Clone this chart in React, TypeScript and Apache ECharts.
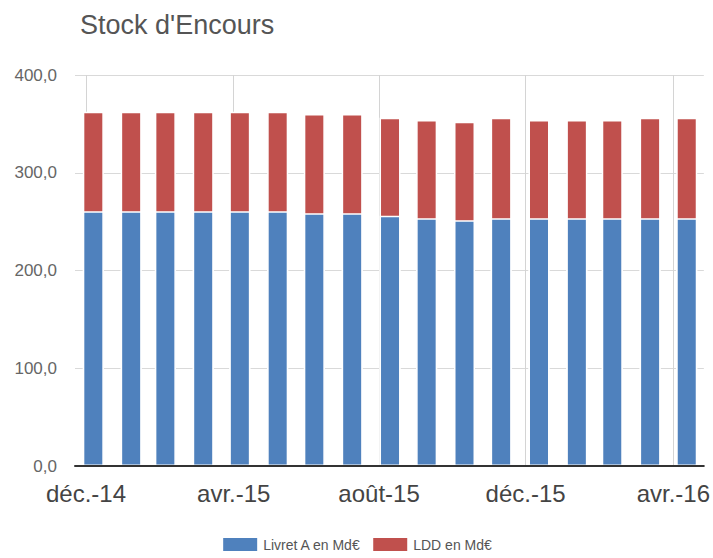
import React, { useEffect, useRef } from "react";
import * as echarts from "echarts";

// Month-end dates of each bar
const barDates = [
  "2014-12-31", "2015-01-31", "2015-02-28", "2015-03-31", "2015-04-30",
  "2015-05-31", "2015-06-30", "2015-07-31", "2015-08-31", "2015-09-30",
  "2015-10-31", "2015-11-30", "2015-12-31", "2016-01-31", "2016-02-29",
  "2016-03-31", "2016-04-30",
];

// Livret A outstanding (Md€)
const livretA = [
  260.5, 260.5, 260.5, 260.5, 260.5, 260.5, 258.5, 258.5, 256.0,
  253.5, 251.5, 253.5, 253.5, 253.5, 253.5, 253.5, 253.5,
];

// LDD outstanding (Md€)
const ldd = [
  102.0, 102.0, 102.0, 102.0, 102.0, 102.0, 101.7, 101.7, 100.3,
  100.5, 100.7, 102.8, 100.5, 100.5, 100.5, 102.8, 102.8,
];

// X axis ticks (gridlines) and their labels
const tickDates = ["2014-12-25", "2015-04-25", "2015-08-22", "2015-12-20", "2016-04-19"];
const tickLabels = ["déc.-14", "avr.-15", "août-15", "déc.-15", "avr.-16"];

const axisMin = "2014-12-16";
const axisMax = "2016-05-14";

const seriesNames = ["Livret A en Md€", "LDD en Md€"];

// days since 2014-12-01 (UTC based, no DST issues)
const dayNum = (s: string) => {
  const [y, m, d] = s.split("-").map(Number);
  return (Date.UTC(y, m - 1, d) - Date.UTC(2014, 11, 1)) / 86400000;
};

export default function App() {
  const ref = useRef<HTMLDivElement>(null);

  useEffect(() => {
    if (!ref.current) return;
    const chart = echarts.init(ref.current, null, { renderer: "svg" });
    const tickNums = tickDates.map(dayNum);
    const font = "'Liberation Sans', Arial, sans-serif";
    // stacked top of each bar (Livret A + LDD)
    const totals = livretA.map((v, i) => v + ldd[i]);

    chart.setOption({
      animation: false,
      backgroundColor: "#ffffff",
      textStyle: { fontFamily: font },
      title: {
        text: "Stock d'Encours",
        left: 75,
        top: 6,
        textStyle: { fontSize: 27, fontWeight: "normal", color: "#555555", fontFamily: font },
      },
      legend: {
        data: seriesNames,
        left: "center",
        top: 531,
        icon: "rect",
        itemWidth: 36,
        itemHeight: 15,
        itemGap: 10,
        textStyle: { fontSize: 14, color: "#555555", fontFamily: font },
      },
      grid: { left: 75, right: 8, top: 75, bottom: 92, containLabel: false },
      xAxis: [
        {
          type: "value",
          position: "bottom",
          min: dayNum(axisMin),
          max: dayNum(axisMax),
          axisLine: { show: false },
          axisTick: { show: false, customValues: tickNums },
          axisLabel: {
            customValues: tickNums,
            fontSize: 24,
            color: "#444444",
            margin: 15,
            hideOverlap: false,
            formatter: (v: number) => {
              let best = 0;
              let bd = Infinity;
              tickNums.forEach((t, i) => {
                const d = Math.abs(t - v);
                if (d < bd) { bd = d; best = i; }
              });
              return tickLabels[best];
            },
          },
          splitLine: { show: true, lineStyle: { color: "#d4d4d4", width: 1 } },
        },
        {
          // baseline drawn above the bars
          type: "value",
          position: "bottom",
          offset: 0,
          z: 5,
          min: dayNum(axisMin),
          max: dayNum(axisMax),
          axisLine: { show: true, onZero: false, lineStyle: { color: "#333333", width: 2 } },
          axisTick: { show: false },
          axisLabel: { show: false },
          splitLine: { show: false },
        },
      ],
      yAxis: {
        type: "value",
        min: 0,
        max: 400,
        interval: 100,
        axisLine: { show: false },
        axisTick: { show: false },
        axisLabel: {
          fontSize: 17,
          color: "#666666",
          margin: 18,
          formatter: (v: number) => v.toFixed(1).replace(".", ","),
        },
        splitLine: { lineStyle: { color: "#d9d9d9", width: 1 } },
      },
      series: [
        {
          name: seriesNames[1],
          type: "bar",
          barWidth: 21,
          barGap: "-100%",
          z: 2,
          itemStyle: { color: "#c0504d", borderColor: "#ffffff", borderWidth: 1.5 },
          data: barDates.map((d, i) => [dayNum(d), totals[i]]),
        },
        {
          name: seriesNames[0],
          type: "bar",
          barWidth: 21,
          barGap: "-100%",
          z: 3,
          itemStyle: { color: "#4f81bd", borderColor: "#ffffff", borderWidth: 1.5 },
          data: barDates.map((d, i) => [dayNum(d), livretA[i]]),
        },
      ],
    });

    return () => chart.dispose();
  }, []);

  return (
    <div
      ref={ref}
      style={{ position: "fixed", left: 0, top: 0, width: 713, height: 558 }}
    />
  );
}
